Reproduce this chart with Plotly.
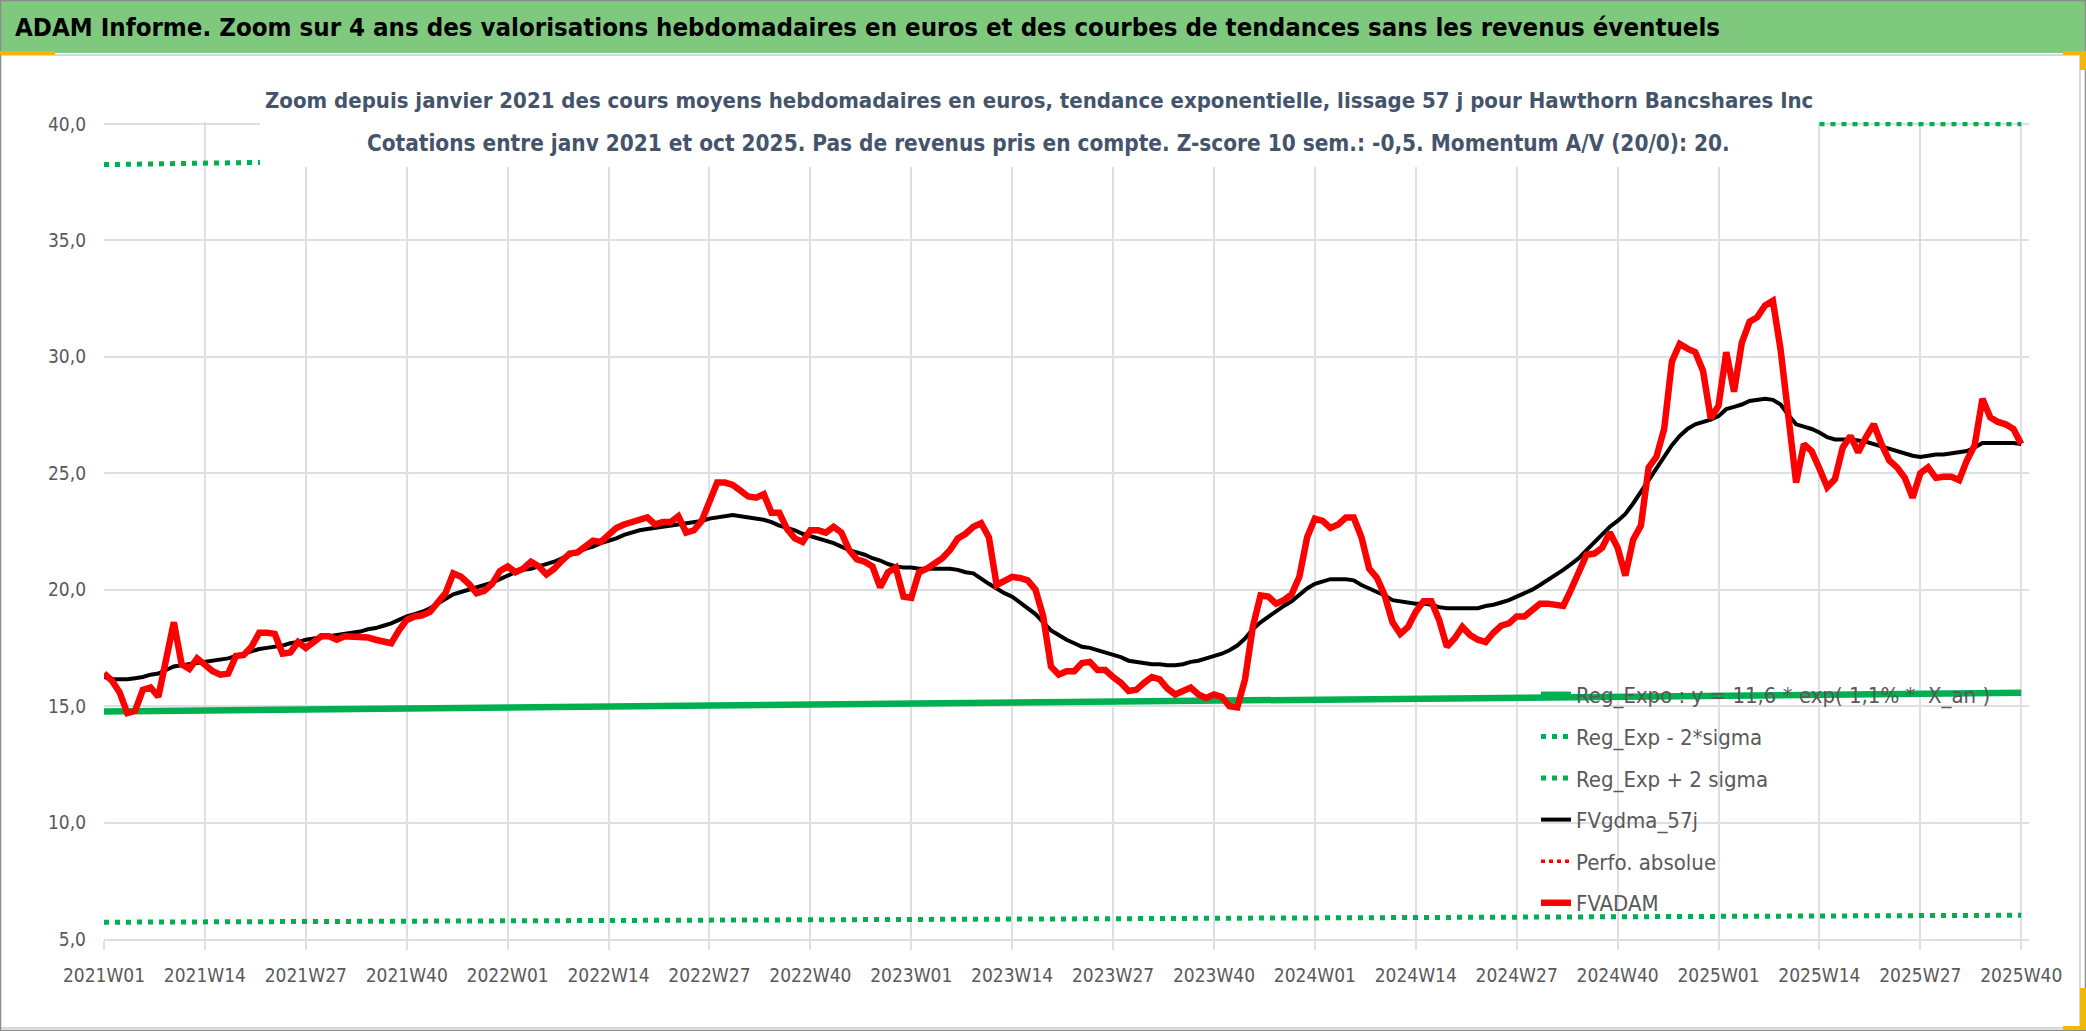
import plotly.graph_objects as go

# ---------------- data ----------------
YEARS = [2021, 2022, 2023, 2024, 2025]
WEEKS_PER_YEAR = [52, 52, 52, 52, 40]
WEEK_LABELS = [f"{y}W{w:02d}" for y, n in zip(YEARS, WEEKS_PER_YEAR) for w in range(1, n + 1)]

TICK_LABELS = ["2021W01", "2021W14", "2021W27", "2021W40", "2022W01", "2022W14", "2022W27",
               "2022W40", "2023W01", "2023W14", "2023W27", "2023W40", "2024W01", "2024W14",
               "2024W27", "2024W40", "2025W01", "2025W14", "2025W27", "2025W40"]

FVADAM = [
    16.4, 16.1, 15.6, 14.7, 14.8, 15.7, 15.8, 15.4, 17.0, 18.6,
    16.8, 16.6, 17.05, 16.8, 16.5, 16.35, 16.4, 17.15, 17.2, 17.55,
    18.15, 18.15, 18.1, 17.25, 17.3, 17.75, 17.5, 17.75, 18.0, 18.0,
    17.85, 18.0, 18.0, 17.95, 17.95, 17.85, 17.75, 17.7, 18.25, 18.7,
    18.85, 18.9, 19.05, 19.4, 19.85, 20.7, 20.55, 20.25, 19.85, 19.95,
    20.25, 20.8, 21.0, 20.75, 20.9, 21.2, 21.0, 20.65, 20.9, 21.25,
    21.55, 21.6, 21.85, 22.1, 22.05, 22.4, 22.65, 22.8, 22.9, 23.0,
    23.1, 22.8, 22.9, 22.9, 23.15, 22.45, 22.55, 22.95, 23.8, 24.6,
    24.6, 24.5, 24.25, 24.0, 23.95, 24.1, 23.3, 23.3, 22.6, 22.2,
    22.05, 22.55, 22.55, 22.45, 22.7, 22.45, 21.7, 21.3, 21.2, 21.0,
    20.1, 20.75, 20.95, 19.7, 19.65, 20.75, 20.9, 21.15, 21.35, 21.7,
    22.2, 22.4, 22.7, 22.85, 22.25, 20.2, 20.35, 20.55, 20.5, 20.4,
    20.0, 18.85, 16.7, 16.35, 16.5, 16.5, 16.85, 16.9, 16.55, 16.55,
    16.25, 16.0, 15.65, 15.7, 16.0, 16.25, 16.15, 15.75, 15.5, 15.65,
    15.8, 15.5, 15.35, 15.5, 15.4, 15.0, 14.95, 16.15, 18.4, 19.75,
    19.7, 19.4, 19.55, 19.8, 20.55, 22.25, 23.05, 22.95, 22.65, 22.8,
    23.1, 23.1, 22.25, 20.9, 20.5, 19.75, 18.6, 18.1, 18.4, 19.05,
    19.5, 19.5, 18.7, 17.55, 17.9, 18.4, 18.05, 17.85, 17.75, 18.15,
    18.45, 18.55, 18.85, 18.85, 19.1, 19.4, 19.4, 19.35, 19.3, 20.0,
    20.8, 21.5, 21.55, 21.8, 22.45, 21.8, 20.6, 22.15, 22.75, 25.25,
    25.7, 26.9, 29.8, 30.55, 30.35, 30.2, 29.4, 27.35, 27.9, 30.2,
    28.5, 30.6, 31.5, 31.7, 32.2, 32.4, 30.3, 27.5, 24.6, 26.25,
    25.95, 25.2, 24.4, 24.75, 26.1, 26.6, 25.9, 26.55, 27.1, 26.25,
    25.55, 25.25, 24.8, 23.95, 25.0, 25.25, 24.8, 24.85, 24.85, 24.7,
    25.55, 26.2, 28.2, 27.4, 27.2, 27.1, 26.9, 26.25,
]

FVGDMA_57J = [
    16.25, 16.15, 16.15, 16.15, 16.2, 16.25, 16.35, 16.4, 16.55, 16.7,
    16.75, 16.8, 16.85, 16.9, 16.95, 17.0, 17.05, 17.15, 17.25, 17.35,
    17.45, 17.5, 17.55, 17.6, 17.7, 17.75, 17.85, 17.9, 17.95, 18.0,
    18.05, 18.1, 18.15, 18.2, 18.3, 18.35, 18.45, 18.55, 18.7, 18.85,
    18.95, 19.05, 19.2, 19.4, 19.6, 19.8, 19.9, 20.0, 20.1, 20.2,
    20.3, 20.45, 20.6, 20.75, 20.85, 20.9, 21.0, 21.1, 21.2, 21.35,
    21.5, 21.6, 21.75, 21.85, 22.0, 22.1, 22.2, 22.35, 22.45, 22.55,
    22.6, 22.65, 22.7, 22.75, 22.8, 22.85, 22.9, 22.95, 23.05, 23.1,
    23.15, 23.2, 23.15, 23.1, 23.05, 23.0, 22.9, 22.75, 22.65, 22.55,
    22.4, 22.3, 22.2, 22.1, 22.0, 21.85, 21.7, 21.6, 21.5, 21.35,
    21.25, 21.1, 21.0, 20.95, 20.95, 20.9, 20.9, 20.9, 20.9, 20.9,
    20.85, 20.75, 20.7, 20.5, 20.25, 20.05, 19.85, 19.7, 19.45, 19.2,
    18.95, 18.6, 18.25, 18.05, 17.85, 17.7, 17.55, 17.5, 17.4, 17.3,
    17.2, 17.1, 16.95, 16.9, 16.85, 16.8, 16.8, 16.75, 16.75, 16.8,
    16.9, 16.95, 17.05, 17.15, 17.25, 17.4, 17.6, 17.9, 18.3, 18.6,
    18.85, 19.05, 19.3, 19.5, 19.8, 20.05, 20.25, 20.35, 20.45, 20.45,
    20.45, 20.4, 20.2, 20.05, 19.9, 19.75, 19.55, 19.5, 19.45, 19.4,
    19.4, 19.35, 19.25, 19.2, 19.2, 19.2, 19.2, 19.2, 19.3, 19.35,
    19.45, 19.55, 19.7, 19.85, 20.0, 20.2, 20.4, 20.6, 20.85, 21.1,
    21.35, 21.7, 22.05, 22.4, 22.7, 22.95, 23.25, 23.7, 24.2, 24.65,
    25.2, 25.7, 26.2, 26.6, 26.9, 27.1, 27.2, 27.3, 27.45, 27.75,
    27.85, 27.95, 28.1, 28.15, 28.2, 28.15, 27.95, 27.5, 27.1, 27.0,
    26.9, 26.75, 26.55, 26.45, 26.45, 26.45, 26.4, 26.35, 26.25, 26.15,
    26.05, 25.95, 25.85, 25.75, 25.7, 25.75, 25.8, 25.8, 25.85, 25.9,
    25.95, 26.1, 26.3, 26.3, 26.3, 26.3, 26.3, 26.25,
]

# regression curves read at each labelled week
REG_EXPO = [14.77, 14.81, 14.85, 14.89, 14.93, 14.97, 15.01, 15.06, 15.10, 15.14,
            15.18, 15.22, 15.27, 15.31, 15.35, 15.39, 15.44, 15.48, 15.52, 15.57]
REG_MINUS_2SIG = [5.72, 5.73, 5.75, 5.76, 5.78, 5.79, 5.81, 5.82, 5.84, 5.85,
                  5.87, 5.89, 5.90, 5.92, 5.93, 5.95, 5.97, 5.98, 6.00, 6.02]
REG_PLUS_2SIG = [38.25, 38.3, 38.35, 38.4, 38.5, 38.6, 38.7, 38.8, 38.9, 39.0,
                 39.1, 39.2, 39.35, 39.5, 39.6, 39.7, 39.85, 40.0, 40.0, 40.0]
PERFO_ABSOLUE = [None]   # no visible value in the zoomed window

LEGEND_NAMES = ["Reg_Expo : y = 11,6 * exp( 1,1% *  X_an )", "Reg_Exp - 2*sigma",
                "Reg_Exp + 2 sigma", "FVgdma_57j", "Perfo. absolue", "FVADAM"]

HEADER = ("ADAM Informe. Zoom sur 4 ans des valorisations hebdomadaires en euros et des "
          "courbes de tendances sans les revenus éventuels")
SUB1 = ("Zoom depuis janvier 2021 des cours moyens hebdomadaires en euros, tendance exponentielle, "
        "lissage 57 j pour Hawthorn Bancshares Inc")
SUB2 = ("Cotations entre janv 2021 et oct 2025. Pas de revenus pris en compte. "
        "Z-score 10 sem.: -0,5. Momentum A/V (20/0): 20.")

# ---------------- layout geometry ----------------
W, H = 2086, 1031
ML, MR, MT, MB = 104, 57, 122, 92
PW, PH = W - ML - MR, H - MT - MB


def px_x(px):
    return (px - ML) / PW


def px_y(py):
    return (H - MB - py) / PH


NARROW = "DejaVu Sans Condensed, Liberation Sans Narrow, sans-serif"
GREEN = "#00B050"
GRID = "#DCE0E6"
TXT = "#595959"
YELLOW = "#F2B705"


def prect(x0, y0, x1, y1, fill, line_color=None, lw=0):
    return dict(type="rect", xref="paper", yref="paper",
                x0=px_x(x0), x1=px_x(x1), y0=px_y(y0), y1=px_y(y1),
                fillcolor=fill, line=dict(color=line_color or "rgba(0,0,0,0)", width=lw),
                layer="above")


fig = go.Figure()

fig.add_trace(go.Scatter(x=TICK_LABELS, y=REG_EXPO, name=LEGEND_NAMES[0], mode="lines",
                         line=dict(color=GREEN, width=6.5), legendgroup="a"))
fig.add_trace(go.Scatter(x=TICK_LABELS, y=REG_MINUS_2SIG, name=LEGEND_NAMES[1], mode="lines",
                         line=dict(color=GREEN, width=5, dash="5px,6px"), legendgroup="b"))
fig.add_trace(go.Scatter(x=TICK_LABELS, y=REG_PLUS_2SIG, name=LEGEND_NAMES[2], mode="lines",
                         line=dict(color=GREEN, width=5, dash="5px,6px"), legendgroup="c"))
fig.add_trace(go.Scatter(x=WEEK_LABELS, y=FVGDMA_57J, name=LEGEND_NAMES[3], mode="lines",
                         line=dict(color="#000000", width=4), legendgroup="d"))
fig.add_trace(go.Scatter(x=WEEK_LABELS[:1], y=PERFO_ABSOLUE, name=LEGEND_NAMES[4], mode="lines",
                         line=dict(color="#FF0000", width=3.5, dash="4px,4px"), legendgroup="e"))
fig.add_trace(go.Scatter(x=WEEK_LABELS, y=FVADAM, name=LEGEND_NAMES[5], mode="lines",
                         line=dict(color="#FF0000", width=6.5), legendgroup="f"))

fig.update_layout(
    width=W, height=H,
    margin=dict(l=ML, r=MR, t=MT, b=MB, pad=0),
    paper_bgcolor="white", plot_bgcolor="white",
    separators=", ",
    showlegend=True,
    legend=dict(x=px_x(1536), y=px_y(674), xanchor="left", yanchor="top",
                bgcolor="rgba(0,0,0,0)", borderwidth=0, tracegroupgap=10,
                font=dict(family=NARROW, size=22, color=TXT), traceorder="grouped"),
    xaxis=dict(type="category", categoryorder="array", categoryarray=WEEK_LABELS,
               range=[0, 248], tickmode="array", tickvals=TICK_LABELS, ticktext=TICK_LABELS,
               showgrid=True, gridcolor=GRID, gridwidth=2,
               showline=True, linecolor=GRID, linewidth=2,
               ticks="outside", ticklen=9, tickcolor=GRID, tickwidth=2,
               ticklabelstandoff=9,
               tickfont=dict(family=NARROW, size=19, color=TXT), zeroline=False),
    yaxis=dict(range=[5, 40.08], tickmode="linear", tick0=5, dtick=5, tickformat=".1f",
               showgrid=True, gridcolor=GRID, gridwidth=2, zeroline=False, showline=False,
               ticks="", ticklabelstandoff=17,
               tickfont=dict(family=NARROW, size=19, color=TXT)),
    shapes=[
        # header band
        prect(0, 0, W, 53, "#7FC97F"),
        # white title box hiding the top of the plot
        prect(260, 58, 1818, 167, "white"),
        # chart area border (light) and outer frame (dark)
        prect(0, 55, 2080, 1028, "rgba(0,0,0,0)", "#D5D9DF", 2),
        prect(0.5, 0.5, W - 0.5, H - 0.5, "rgba(0,0,0,0)", "#8C8C8C", 1.5),
        # selection-handle marks
        prect(0, 51, 55, 55, YELLOW),
        prect(2063, 51, W, 55, YELLOW),
        prect(2080, 51, W, 70, YELLOW),
        prect(2080, 988, W, 1030, YELLOW),
        prect(2063, 1026, W, 1030, YELLOW),
    ],
    annotations=[
        dict(text="<b>" + HEADER + "</b>", xref="paper", yref="paper", x=px_x(13), y=px_y(27),
             xanchor="left", yanchor="middle", showarrow=False,
             font=dict(family=NARROW, size=25.6, color="#000000")),
        dict(text="<b>" + SUB1 + "</b>", xref="paper", yref="paper", x=px_x(1039), y=px_y(100),
             xanchor="center", yanchor="middle", showarrow=False,
             font=dict(family=NARROW, size=22, color="#44546A")),
        dict(text="<b>" + SUB2 + "</b>", xref="paper", yref="paper", x=px_x(1048), y=px_y(143),
             xanchor="center", yanchor="middle", showarrow=False,
             font=dict(family=NARROW, size=22.4, color="#44546A")),
    ],
)

fig.write_html("out.html", config={"displayModeBar": False},
               post_script="document.body.style.margin='0';document.body.style.overflow='hidden';")
